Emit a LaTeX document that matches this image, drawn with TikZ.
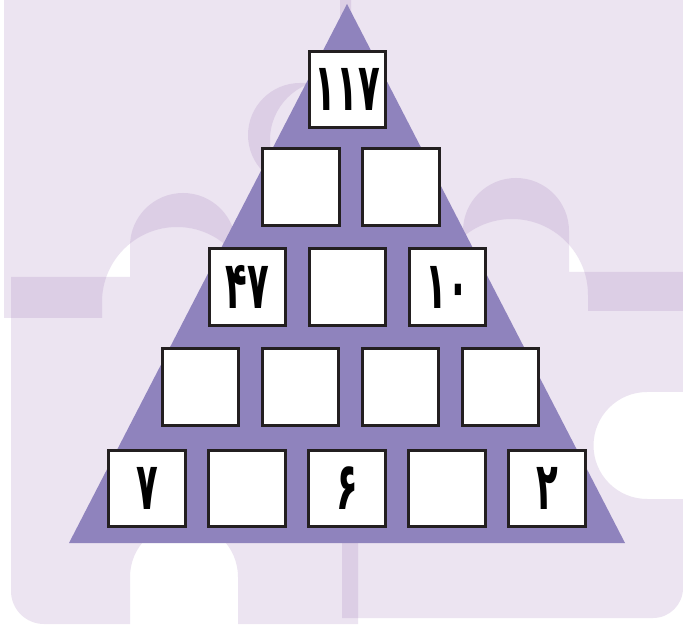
\documentclass[tikz,border=0pt]{standalone}
\usepackage{fontspec}
\newfontfamily\farsi[Script=Arabic]{DejaVu Sans}
\newcommand{\pnum}[1]{\scalebox{0.66}[1.23]{#1}}
\definecolor{piece}{RGB}{160,120,185}
\definecolor{pyramid}{RGB}{143,131,189}
\definecolor{ink}{RGB}{35,31,32}
\begin{document}
\begin{tikzpicture}[x=0.3mm,y=0.3mm,
  piecefill/.style={fill=piece,fill opacity=0.2},
  cell/.style={draw=ink,line width=0.9mm,fill=white,minimum size=22.9mm,inner sep=0pt,
    font=\farsi\bfseries\fontsize{46}{46}\selectfont}]
\useasboundingbox[fill=white] (0,0) rectangle (683,624);
% puzzle pieces
\fill[piecefill] (4,624) -- (351,624) -- (351,544) -- (330,544) arc[start angle=90,end angle=270,radius=60]
  -- (351,424) -- (351,306) -- (252,306) -- (252,322) arc[start angle=0,end angle=180,radius=75]
  -- (102,306) -- (4,306) -- cycle;
\fill[piecefill] (340,624) -- (683,624) -- (683,313) -- (588,313) -- (588,329) arc[start angle=0,end angle=180,radius=76]
  -- (436,313) -- (340,313) -- (340,437) -- (300,437) arc[start angle=270,end angle=90,radius=52]
  -- (340,541) -- cycle;
\fill[piecefill] (11,347) -- (130,347) -- (130,378) arc[start angle=180,end angle=0,radius=53]
  -- (236,347) -- (358,347) -- (358,0) -- (238,0) -- (238,47) arc[start angle=0,end angle=180,radius=54]
  -- (130,0) -- (44,0) arc[start angle=270,end angle=180,radius=33] -- cycle;
\fill[piecefill] (342,352) -- (463,352) -- (463,393) arc[start angle=180,end angle=0,radius=53]
  -- (569,352) -- (683,352) -- (683,232) -- (647,232) arc[start angle=90,end angle=270,radius=53.5]
  -- (683,125) -- (683,36) arc[start angle=0,end angle=-90,radius=30] -- (342,6) -- cycle;
% pyramid
\fill[pyramid] (69,81) -- (625,81) -- (347,620) -- cycle;
\node[cell] (c11) at (347.5,534.5) {\pnum{۱۱۷}};
\node[cell] (c21) at (301,437) {};
\node[cell] (c22) at (401,437) {};
\node[cell] (c31) at (247.5,337) {\pnum{۴۷}};
\node[cell] (c32) at (347.5,337) {};
\node[cell] (c33) at (447.5,337) {\pnum{۱۰}};
\node[cell] (c41) at (200.5,237) {};
\node[cell] (c42) at (300.5,237) {};
\node[cell] (c43) at (400.5,237) {};
\node[cell] (c44) at (500.5,237) {};
\node[cell] (c51) at (147,135.5) {\pnum{۷}};
\node[cell] (c52) at (247,135.5) {};
\node[cell] (c53) at (347,135.5) {\pnum{۶}};
\node[cell] (c54) at (447,135.5) {};
\node[cell] (c55) at (547,135.5) {\pnum{۲}};
\end{tikzpicture}
\end{document}
